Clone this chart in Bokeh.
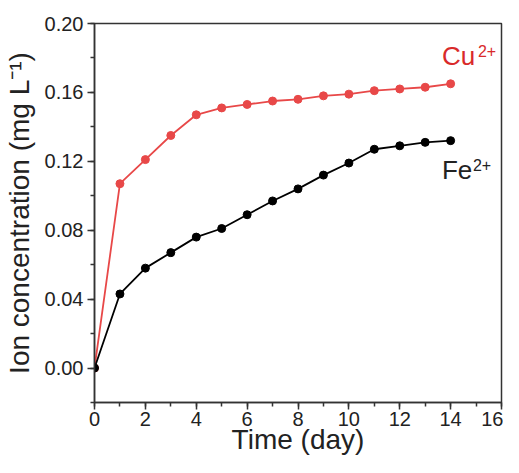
from bokeh.plotting import figure
from bokeh.models import SingleIntervalTicker, NumeralTickFormatter, Label, Range1d
from bokeh.embed import file_html
from bokeh.resources import INLINE

days = list(range(15))
cu = [0.0, 0.107, 0.121, 0.135, 0.147, 0.151, 0.153, 0.155, 0.156, 0.158, 0.159, 0.161, 0.162, 0.163, 0.165]
fe = [0.0, 0.043, 0.058, 0.067, 0.076, 0.081, 0.089, 0.097, 0.104, 0.112, 0.119, 0.127, 0.129, 0.131, 0.132]

RED = "#e84848"
RED_TXT = "#d92a2a"
FONT = "Liberation Sans"

p = figure(width=503, height=457, output_backend="svg", toolbar_location=None,
           x_range=Range1d(0, 16), y_range=Range1d(-0.02, 0.20),
           min_border_left=93, min_border_right=2, min_border_top=23, min_border_bottom=54)
p.grid.visible = False
p.outline_line_color = "#333333"
p.outline_line_width = 1.5
p.background_fill_color = "white"
p.border_fill_color = "white"

p.line(days, cu, color=RED, line_width=1.8)
p.scatter(days, cu, size=8, color=RED)
p.line(days, fe, color="black", line_width=1.8)
p.scatter(days, fe, size=8, color="black")

p.xaxis.ticker = SingleIntervalTicker(interval=2, num_minor_ticks=2)
p.yaxis.ticker = SingleIntervalTicker(interval=0.04, num_minor_ticks=2)
p.yaxis.formatter = NumeralTickFormatter(format="0.00")

for ax in (p.xaxis[0], p.yaxis[0]):
    ax.axis_line_color = "#333333"
    ax.axis_line_width = 1.5
    ax.major_tick_line_color = "#333333"
    ax.minor_tick_line_color = "#333333"
    ax.major_tick_line_width = 1.5
    ax.minor_tick_line_width = 1.5
    ax.major_tick_out = 7
    ax.major_tick_in = 0
    ax.minor_tick_out = 4
    ax.minor_tick_in = 0
    ax.major_label_text_font = FONT
    ax.major_label_text_font_size = "20px"
    ax.major_label_text_color = "#222222"
    ax.axis_label_text_font = FONT
    ax.axis_label_text_font_size = "28px"
    ax.axis_label_text_font_style = "normal"
    ax.axis_label_text_color = "#222222"

p.xaxis.axis_label = "Time (day)"
p.yaxis.axis_label = "Ion concentration (mg L\u207b\u00b9)"
p.xaxis.major_label_standoff = 2
p.yaxis.major_label_standoff = 4
p.xaxis.axis_label_standoff = -5
p.yaxis.axis_label_standoff = 7

p.add_layout(Label(x=13.66, y=0.1812, text="Cu", text_font=FONT, text_font_size="26px",
                   text_baseline="alphabetic", text_color=RED_TXT))
p.add_layout(Label(x=13.66, y=0.1812, x_offset=36, y_offset=5, text="2+", text_font=FONT,
                   text_font_size="16px", text_baseline="alphabetic", text_color=RED_TXT))
p.add_layout(Label(x=13.66, y=0.1147, text="Fe", text_font=FONT, text_font_size="26px",
                   text_baseline="alphabetic", text_color="#222222"))
p.add_layout(Label(x=13.66, y=0.1147, x_offset=31, y_offset=5, text="2+", text_font=FONT,
                   text_font_size="16px", text_baseline="alphabetic", text_color="#222222"))

open("out.html", "w").write(file_html(p, INLINE))
